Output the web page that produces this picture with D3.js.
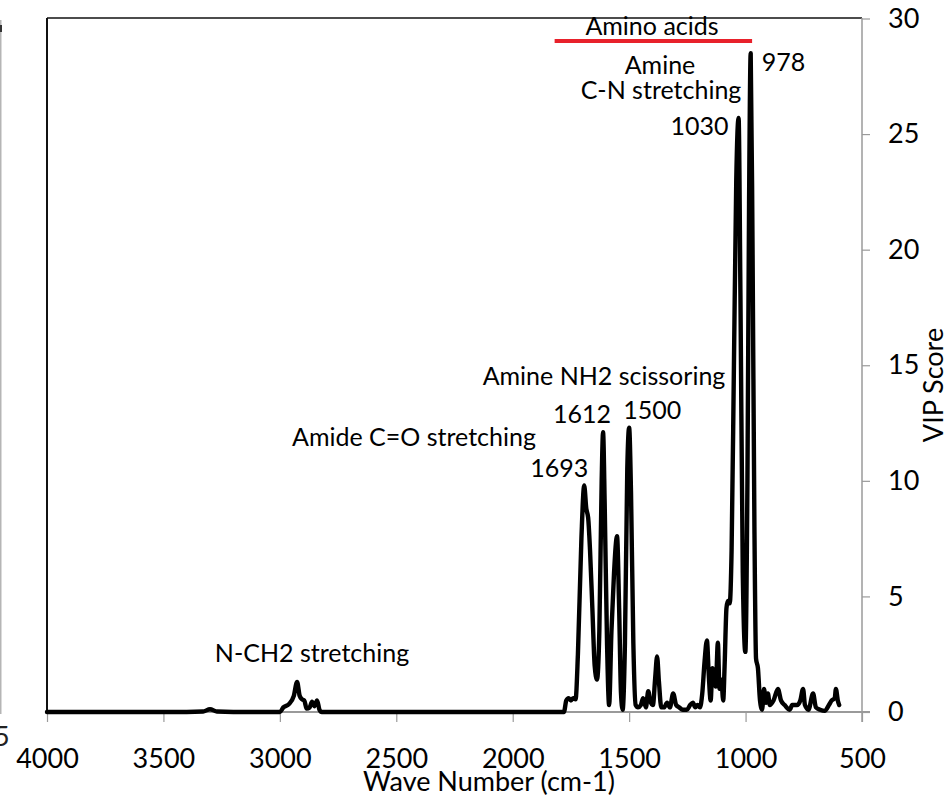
<!DOCTYPE html>
<html>
<head>
<meta charset="utf-8">
<script src="https://cdn.jsdelivr.net/npm/d3@7"></script>
<style>
  html, body { margin: 0; padding: 0; background: #fff; }
  svg { display: block; font-family: Lato, "Noto Sans", sans-serif; }
</style>
</head>
<body>
<svg id="chart" width="951" height="799"></svg>
<script>
// VIP spectrum: wavenumber (cm-1) and VIP score
const wavenumbers = [
  4000, 3400, 3330, 3300, 3270, 3200, 3000, 2985, 2960, 2940, 2926, 2915, 2905, 2895, 2885,
  2872, 2862, 2852, 2840, 2830, 2820, 1780, 1770, 1760, 1750, 1740, 1730, 1720, 1705, 1693,
  1684, 1676, 1668, 1658, 1648, 1638, 1628, 1618, 1612, 1605, 1595, 1586, 1576, 1565, 1552,
  1543, 1535, 1528, 1518, 1508, 1500, 1492, 1482, 1472, 1462, 1450, 1440, 1428, 1418, 1410,
  1398, 1388, 1380, 1372, 1362, 1350, 1337, 1325, 1311, 1298, 1285, 1270, 1252, 1238, 1226,
  1216, 1206, 1196, 1186, 1176, 1166, 1158, 1150, 1142, 1135, 1128, 1119, 1112, 1104, 1096,
  1090, 1082, 1076, 1068, 1060, 1050, 1040, 1030, 1022, 1012, 1001, 992, 985, 978, 970,
  962, 955, 947, 938, 929, 921, 912, 904, 896, 880, 861, 848, 832, 810, 800,
  779, 765, 753, 745, 730, 710, 698, 680, 660, 642, 630, 617, 612, 604, 598
];
const vipScores = [
  0, 0, 0.02, 0.12, 0.02, 0, 0, 0.2, 0.35, 0.7, 1.3, 0.7, 0.55, 0.5, 0.15,
  0.2, 0.45, 0.25, 0.5, 0.1, 0, 0, 0.5, 0.6, 0.5, 0.6, 0.55, 2.5, 7.5, 9.8,
  8.8, 8.4, 7.0, 4.5, 2.0, 1.4, 3.5, 10, 12.1, 9, 3, 0.3, 3.5, 6.0, 7.6,
  4.5, 0.8, 0.1, 3.0, 10.5, 12.3, 9.5, 3.0, 0.3, 0.2, 0.3, 0.6, 0.2, 0.9, 0.5,
  0.3, 1.5, 2.4, 1.3, 0.2, 0.2, 0.4, 0.2, 0.8, 0.3, 0.2, 0.1, 0.1, 0.3, 0.4,
  0.2, 0.3, 0.2, 0.8, 2.2, 3.1, 1.6, 0.5, 1.9, 1.5, 1.1, 3.0, 1.0, 1.4, 0.5,
  2.0, 4.5, 4.8, 4.7, 7, 15, 23, 25.7, 18, 6, 2.6, 10, 22, 28.5, 20,
  8, 2.3, 1.9, 0.5, 0.1, 1.0, 0.4, 0.8, 0.3, 0.5, 1.0, 0.5, 0.3, 0.1, 0.3,
  0.3, 0.5, 1.0, 0.3, 0.1, 0.8, 0.2, 0.1, 0.05, 0.3, 0.5, 0.6, 1.0, 0.5, 0.3
];
const xTicks = [4000, 3500, 3000, 2500, 2000, 1500, 1000, 500];
const yTicks = [0, 5, 10, 15, 20, 25, 30];

// Band annotations: text, anchor wavenumber, anchor VIP
const peakLabels = [
  { text: "978",  wave: 978,  vip: 28.5 },
  { text: "1030", wave: 1030, vip: 25.7 },
  { text: "1612", wave: 1612, vip: 12.1 },
  { text: "1500", wave: 1500, vip: 12.3 },
  { text: "1693", wave: 1693, vip: 9.8 }
];
const bandLabels = ["Amino acids", "Amine", "C-N stretching", "Amine NH2 scissoring",
                    "Amide C=O stretching", "N-CH2 stretching"];
const aminoRange = [1820, 972];

const data = wavenumbers.map((w, i) => ({ w, v: vipScores[i] }));

const svg = d3.select("#chart");
const plot = { left: 47, right: 862, top: 18, bottom: 712 };

const x = d3.scaleLinear().domain([4000, 500]).range([plot.left, plot.right]);
const y = d3.scaleLinear().domain([0, 30]).range([plot.bottom, plot.top + 0.5]);

const gray = "#9a9a9a";

// remnant of a neighbouring panel's axis at the far left
svg.append("line").attr("x1", 0.75).attr("x2", 0.75).attr("y1", 20).attr("y2", 714)
  .attr("stroke", "#b5b5b5").attr("stroke-width", 1.5);
svg.append("rect").attr("x", 0).attr("y", 25).attr("width", 2).attr("height", 7).attr("fill", "#333");
svg.append("text").attr("x", -6).attr("y", 746).attr("font-size", 27).attr("fill", "#222").text("5");

// plot frame (left and top)
svg.append("line").attr("x1", plot.left).attr("x2", plot.left).attr("y1", plot.top).attr("y2", plot.bottom)
  .attr("stroke", "#111").attr("stroke-width", 2);
svg.append("line").attr("x1", plot.left).attr("x2", plot.right).attr("y1", plot.top).attr("y2", plot.top)
  .attr("stroke", "#111").attr("stroke-width", 1.5);

// bottom axis
const xAxis = svg.append("g").attr("transform", `translate(0,${plot.bottom})`)
  .call(d3.axisBottom(x).tickValues(xTicks).tickSize(10).tickPadding(27).tickFormat(d3.format("d")));
xAxis.select(".domain").attr("stroke", gray).attr("stroke-width", 2)
  .attr("d", `M${plot.left},0H${plot.right + 8}`);
xAxis.selectAll(".tick line").attr("stroke", gray).attr("stroke-width", 1.2);
xAxis.selectAll(".tick text").attr("font-size", 27).attr("font-family", "Lato").attr("fill", "#000");

// right axis
const yAxis = svg.append("g").attr("transform", `translate(${plot.right},0)`)
  .call(d3.axisRight(y).tickValues(yTicks).tickSize(8).tickPadding(18));
yAxis.select(".domain").attr("stroke", gray).attr("stroke-width", 1.5)
  .attr("d", `M0,${plot.top}V${plot.bottom + 10}`);
yAxis.selectAll(".tick line").attr("stroke", gray).attr("stroke-width", 1.2);
yAxis.selectAll(".tick text").attr("font-size", 27).attr("font-family", "Lato").attr("fill", "#000");

// axis titles
svg.append("text").attr("x", 489).attr("y", 791).attr("text-anchor", "middle")
  .attr("font-size", 27).text("Wave Number (cm-1)");
svg.append("text").attr("transform", "translate(943,385) rotate(-90)").attr("text-anchor", "middle")
  .attr("font-size", 27).text("VIP Score");

// spectrum
const line = d3.line().x(d => x(d.w)).y(d => y(d.v)).curve(d3.curveMonotoneX);
svg.append("path").datum(data).attr("d", line).attr("fill", "none")
  .attr("stroke", "#000").attr("stroke-width", 4.4).attr("stroke-linejoin", "round").attr("stroke-linecap", "round");

// amino-acid region bar
svg.append("line").attr("x1", x(aminoRange[0])).attr("x2", x(aminoRange[1]))
  .attr("y1", 41).attr("y2", 41).attr("stroke", "#e8212b").attr("stroke-width", 4);

const ann = svg.append("g").attr("font-size", 25).attr("fill", "#000");
const bandPos = [
  [652, 35], [660, 74], [661, 99], [604, 385], [414, 446], [312, 662]
];
bandLabels.forEach((t, i) => {
  ann.append("text").attr("x", bandPos[i][0]).attr("y", bandPos[i][1])
    .attr("text-anchor", "middle").text(t);
});

// peak wavenumber labels, offsets from each peak
const peakOffsets = {
  "978":  { dx: 11,  dy: 18, anchor: "start" },
  "1030": { dx: -10, dy: 17, anchor: "end" },
  "1612": { dx: -21, dy: -9, anchor: "middle" },
  "1500": { dx: 23,  dy: -9, anchor: "middle" },
  "1693": { dx: -25, dy: -8, anchor: "middle" }
};
peakLabels.forEach(p => {
  const o = peakOffsets[p.text];
  ann.append("text").attr("x", x(p.wave) + o.dx).attr("y", y(p.vip) + o.dy)
    .attr("text-anchor", o.anchor).text(p.text);
});
</script>
</body>
</html>
